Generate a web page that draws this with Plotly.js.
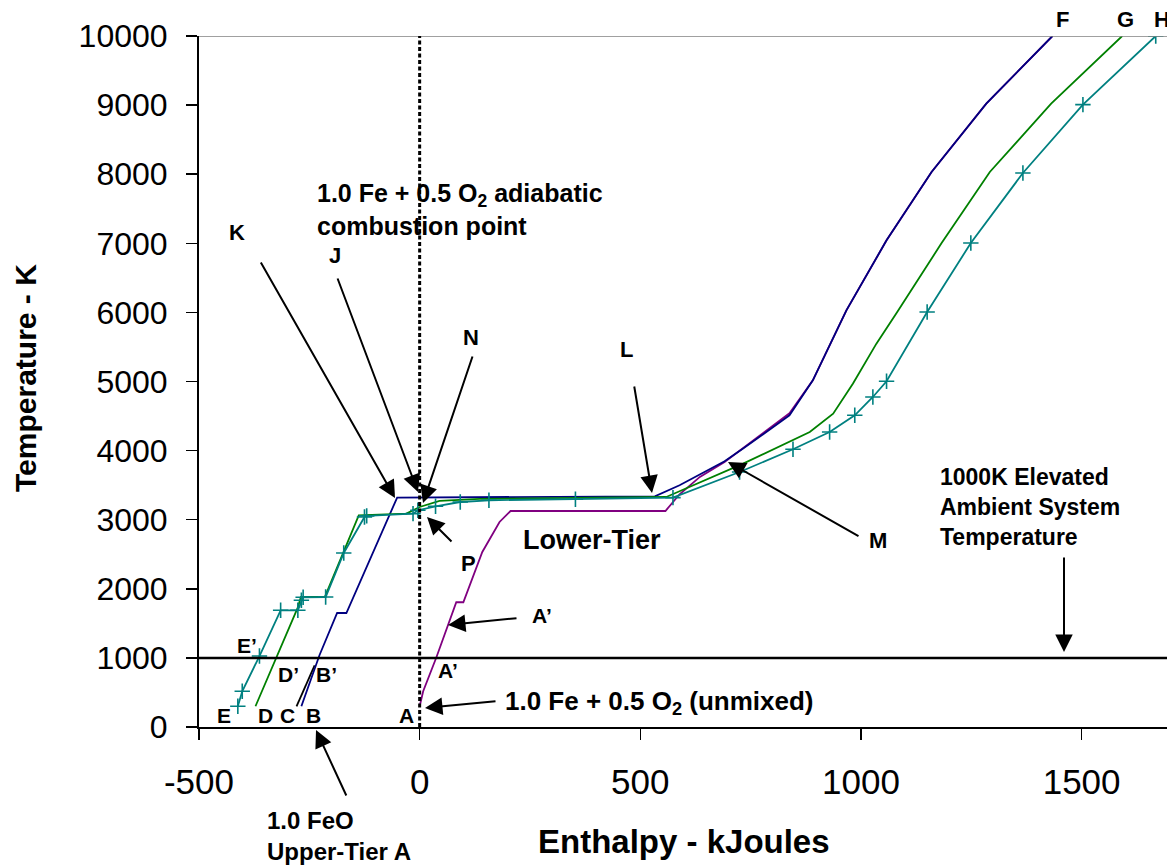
<!DOCTYPE html>
<html>
<head>
<meta charset="utf-8">
<script src="https://cdn.plot.ly/plotly-3.0.1.min.js"></script>
<style>html,body{margin:0;padding:0;background:#fff;}#chart{width:1167px;height:867px;}</style>
</head>
<body>
<div id="chart"></div>
<script>
// ---- Data (Enthalpy kJ, Temperature K) ----
const purpleX = [0, 8, 38, 83, 99, 142, 181, 206, 557, 589, 635, 691, 838, 891, 967, 1058, 1160, 1284, 1434];
const purpleT = [300, 517, 1009, 1805, 1805, 2533, 2967, 3126, 3126, 3368, 3620, 3835, 4540, 5017, 6030, 7043, 8032, 9022, 10000];

const blueX = [-268, -227, -187, -166, -51, 533, 589, 691, 733, 838, 891, 967, 1058, 1160, 1284, 1434];
const blueT = [300, 1038, 1650, 1650, 3320, 3339, 3498, 3845, 4029, 4511, 5017, 6030, 7043, 8032, 9022, 10000];

const greenX = [-372, -325, -276, -269, -215, -138, -30, 0, 45, 136, 559, 733, 884, 937, 982, 1035, 1080, 1182, 1292, 1431, 1592];
const greenT = [300, 1009, 1732, 1881, 1881, 3064, 3088, 3184, 3271, 3300, 3329, 3812, 4269, 4535, 4970, 5548, 5983, 6996, 8032, 9022, 10000];

const tealX = [-412, -402, -363, -315, -276, -268, -264, -213, -172, -125, -120, -15, -4, 36, 92, 157, 353, 574, 725, 846, 929, 986, 1027, 1058, 1150, 1249, 1367, 1503, 1668];
const tealT = [300, 517, 1027, 1689, 1689, 1834, 1878, 1881, 2518, 3039, 3055, 3088, 3136, 3194, 3256, 3281, 3295, 3320, 3690, 4019, 4269, 4511, 4776, 5003, 6006, 7004, 8017, 9007, 10000];

const blackX = [-279, -238];
const blackT = [300, 893];

const xTicks = [-500, 0, 500, 1000, 1500];
const yTicks = [0, 1000, 2000, 3000, 4000, 5000, 6000, 7000, 8000, 9000, 10000];
const ambientT = 1000;
const combustionX = 0;

// ---- layout helpers (pixel -> paper) ----
const PL = 199, PW = 968, PB = 727, PH = 691;
const FONT = 'Liberation Sans, Arial, Helvetica, sans-serif';
function px(x){ return (x - PL) / PW; }
function py(y){ return (PB - y) / PH; }

function label(text, x, y, size, opts){
  return Object.assign({
    xref:'paper', yref:'paper', x:px(x), y:py(y), text:'<b>'+text+'</b>',
    showarrow:false, xanchor:'center', yanchor:'middle',
    font:{family:FONT, size:size, color:'#000'}
  }, opts||{});
}
function arrow(tx, ty, hx, hy){
  return {
    xref:'paper', yref:'paper', x:px(hx), y:py(hy),
    axref:'pixel', ayref:'pixel', ax:tx-hx, ay:ty-hy,
    text:'', showarrow:true, arrowhead:2, arrowsize:1.75, arrowwidth:2,
    arrowcolor:'#000', standoff:0, startstandoff:0
  };
}

const lw = 1.8;
const traces = [
  {x:purpleX, y:purpleT, mode:'lines', line:{color:'#800080', width:lw}, hoverinfo:'skip'},
  {x:blackX, y:blackT, mode:'lines', line:{color:'#000000', width:lw}, hoverinfo:'skip'},
  {x:blueX, y:blueT, mode:'lines', line:{color:'#000080', width:lw}, hoverinfo:'skip'},
  {x:greenX, y:greenT, mode:'lines', line:{color:'#008000', width:lw}, hoverinfo:'skip'},
  {x:tealX, y:tealT, mode:'lines+markers', line:{color:'#008080', width:lw},
   marker:{symbol:'cross-thin', size:11, color:'#008080', line:{color:'#008080', width:1.6}}, hoverinfo:'skip'}
];

const annotations = [
  // curve end labels
  label('F', 1062, 20, 22), label('G', 1125, 20, 22), label('H', 1162, 20, 22),
  label('1.0 Fe + 0.5 O<sub>2</sub> adiabatic<br>combustion point', 315, 209, 25, {xanchor:'left', align:'left'}),
  label('K', 237, 232, 22), label('J', 335, 255, 22), label('N', 471, 337, 22), label('L', 626, 349, 22),
  label('M', 878, 540, 22), label('P', 468, 563, 22),
  label('Lower-Tier', 592, 540, 27),
  label('1000K Elevated<br>Ambient System<br>Temperature', 938, 507, 23, {xanchor:'left', align:'left'}),
  label('A\u2019', 542, 615, 21), label('A\u2019', 448, 670, 21),
  label('E\u2019', 247, 645, 21), label('D\u2019', 288, 674, 21), label('B\u2019', 326, 674, 21),
  label('E', 224, 715, 21), label('D', 265, 715, 21), label('C', 287, 715, 21), label('B', 313, 715, 21), label('A', 406, 715, 21),
  label('1.0 Fe + 0.5 O<sub>2</sub> (unmixed)', 503, 702, 26, {xanchor:'left'}),
  label('1.0 FeO<br>Upper-Tier A', 265, 836, 24, {xanchor:'left', align:'left'}),
  // axis titles
  label('Temperature - K', 26, 378, 30, {textangle:-90}),
  label('Enthalpy - kJoules', 684, 841, 33),
  // arrows
  arrow(260, 261, 395, 498),
  arrow(337, 277, 418, 492),
  arrow(473, 355, 423, 503),
  arrow(634, 385, 652, 493),
  arrow(860, 537, 728, 462),
  arrow(453, 543, 427, 517),
  arrow(518, 618, 448, 625),
  arrow(497, 701, 425, 708),
  arrow(347, 797, 316, 730),
  arrow(1064, 556, 1064, 652)
];

const shapes = [
  {type:'line', xref:'paper', yref:'y', x0:0, x1:1, y0:10000, y1:10000, line:{color:'#808080', width:1.5}},
  {type:'line', xref:'paper', yref:'y', x0:0, x1:1, y0:ambientT, y1:ambientT, line:{color:'#000', width:2.5}},
  {type:'line', xref:'x', yref:'y', x0:combustionX, x1:combustionX, y0:0, y1:10000, line:{color:'#000', width:3, dash:'4px,2.5px'}}
];

const layout = {
  width:1167, height:867,
  margin:{l:PL, r:0, t:36, b:140, pad:0},
  paper_bgcolor:'#fff', plot_bgcolor:'#fff',
  showlegend:false,
  font:{family:FONT, color:'#000'},
  xaxis:{
    range:[-500, -500 + PW/0.4413], tickmode:'array', tickvals:xTicks, ticktext:xTicks.map(String),
    showgrid:false, zeroline:false, showline:true, linecolor:'#000', linewidth:1.5,
    ticks:'outside', ticklen:11, tickwidth:1.5, tickcolor:'#000',
    tickfont:{family:FONT, size:35, color:'#000'}, ticklabelstandoff:12
  },
  yaxis:{
    range:[0, 10000], tickmode:'array', tickvals:yTicks, ticktext:yTicks.map(String),
    showgrid:false, zeroline:false, showline:true, linecolor:'#000', linewidth:2,
    ticks:'outside', ticklen:11, tickwidth:1.5, tickcolor:'#000',
    tickfont:{family:FONT, size:32, color:'#000'}, ticklabelstandoff:12
  },
  shapes:shapes,
  annotations:annotations
};

Plotly.newPlot('chart', traces, layout, {displayModeBar:false, staticPlot:true});
</script>
</body>
</html>
